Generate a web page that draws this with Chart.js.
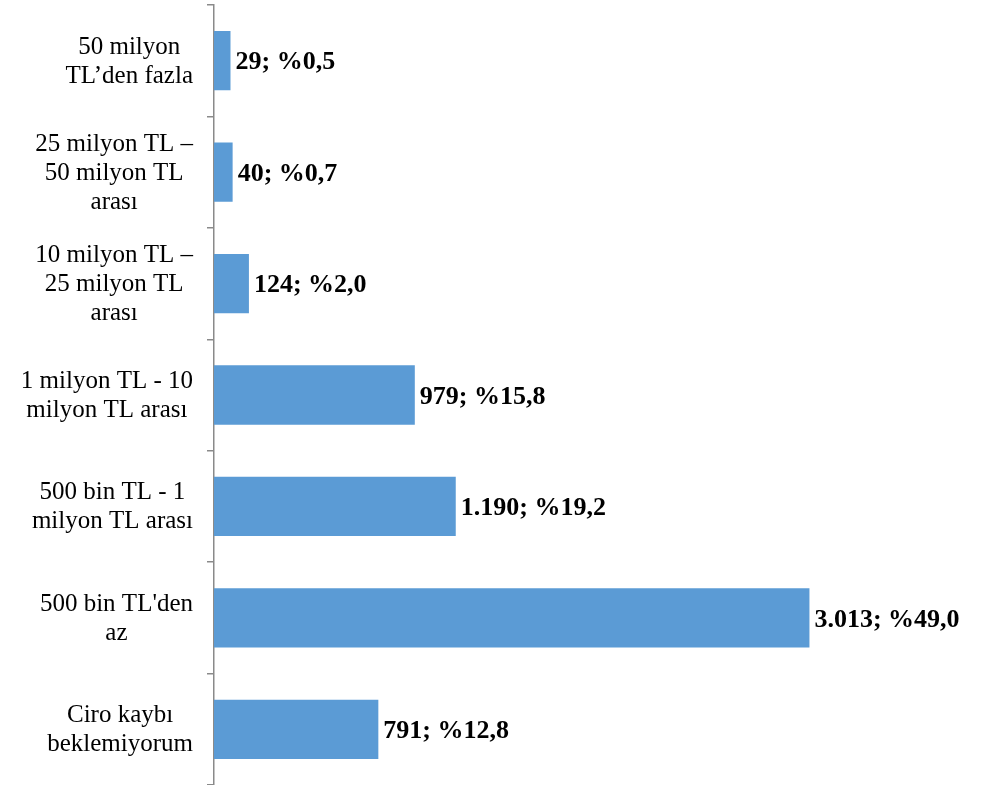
<!DOCTYPE html>
<html>
<head>
<meta charset="utf-8">
<script src="https://cdn.jsdelivr.net/npm/chart.js@4"></script>
<style>
  body { margin: 0; background: #fff; }
</style>
</head>
<body>
<canvas id="ciro-chart" width="982" height="785"></canvas>
<script>
// Categories (top to bottom), one array entry per label line
const categories = [
    ["50 milyon", "TL’den fazla"],
    ["25 milyon TL –", "50 milyon TL", "arası"],
    ["10 milyon TL –", "25 milyon TL", "arası"],
    ["1 milyon TL - 10", "milyon TL arası"],
    ["500 bin TL - 1", "milyon TL arası"],
    ["500 bin TL'den", "az"],
    ["Ciro kaybı", "beklemiyorum"]
];

// Number of firms and share in percent
const counts = [29, 40, 124, 979, 1190, 3013, 791];
const shares = [0.5, 0.7, 2.0, 15.8, 19.2, 49.0, 12.8];

// Value axis range
const xMin = -56;
const xMax = 3490;

const serif = '"Liberation Serif", "DejaVu Serif", serif';

function formatCount(n) {
    return String(n).replace(/\B(?=(\d{3})+(?!\d))/g, '.');
}

function formatShare(p) {
    return '%' + p.toFixed(1).replace('.', ',');
}

// Draws the category labels as centered text blocks left of the axis
const categoryLabels = {
    id: 'categoryLabels',
    afterDraw(chart) {
        const ctx = chart.ctx;
        const yScale = chart.scales.y;
        const rightEdge = 193;
        const lineHeight = 29;
        ctx.save();
        ctx.font = '25px ' + serif;
        ctx.fillStyle = '#000';
        ctx.textAlign = 'center';
        ctx.textBaseline = 'middle';
        categories.forEach((lines, i) => {
            const yc = yScale.getPixelForTick(i) + 1;
            const widest = Math.max(...lines.map(l => ctx.measureText(l).width));
            const xc = rightEdge - widest / 2;
            const top = yc - (lines.length - 1) * lineHeight / 2;
            lines.forEach((line, j) => {
                ctx.fillText(line, xc, top + j * lineHeight);
            });
        });
        ctx.restore();
    }
};

// Draws "count; %share" next to each bar
const valueLabels = {
    id: 'valueLabels',
    afterDatasetsDraw(chart) {
        const ctx = chart.ctx;
        const meta = chart.getDatasetMeta(0);
        ctx.save();
        ctx.font = 'bold 26px ' + serif;
        ctx.fillStyle = '#000';
        ctx.textAlign = 'left';
        ctx.textBaseline = 'middle';
        meta.data.forEach((bar, i) => {
            const text = formatCount(counts[i]) + '; ' + formatShare(shares[i]);
            ctx.fillText(text, bar.x + 5, bar.y + 2);
        });
        ctx.restore();
    }
};

const ctx = document.getElementById('ciro-chart').getContext('2d');

new Chart(ctx, {
    type: 'bar',
    data: {
        labels: categories,
        datasets: [{
            data: counts,
            base: xMin,
            backgroundColor: '#5B9BD5',
            borderWidth: 0,
            barPercentage: 1,
            categoryPercentage: 0.532
        }]
    },
    options: {
        indexAxis: 'y',
        responsive: false,
        devicePixelRatio: 1,
        animation: false,
        layout: {
            padding: { left: 0, top: 5, right: 80, bottom: 0 }
        },
        plugins: {
            legend: { display: false },
            tooltip: { enabled: false }
        },
        scales: {
            x: {
                display: false,
                min: xMin,
                max: xMax
            },
            y: {
                z: 1,
                ticks: { display: false },
                grid: {
                    drawOnChartArea: false,
                    drawTicks: true,
                    tickLength: 7,
                    color: '#8a8a8a',
                    lineWidth: 1.5
                },
                border: { color: '#8a8a8a', width: 1.5 },
                afterFit(scale) {
                    scale.width = 214;
                }
            }
        }
    },
    plugins: [categoryLabels, valueLabels]
});
</script>
</body>
</html>
